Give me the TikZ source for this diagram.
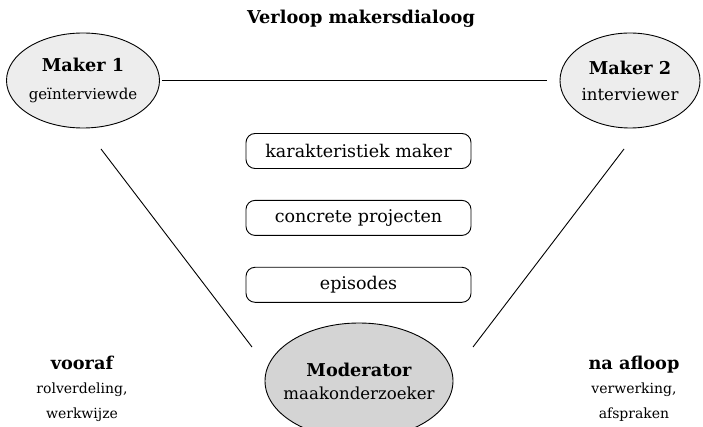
\documentclass[tikz,border=0pt]{standalone}
\usepackage{fontspec}
\setmainfont{DejaVu Serif}
\usetikzlibrary{positioning, shapes.geometric}
\definecolor{makergray}{gray}{0.93}
\definecolor{modgray}{gray}{0.83}
\newcommand{\rolehead}{\fontsize{17.7}{20}\selectfont\bfseries}

\begin{document}
\begin{tikzpicture}[
    x=1pt, y=-1pt,
    node distance=31pt,
    line width=0.9pt,
    every node/.style={align=center, font=\fontsize{16}{24.5}\selectfont},
    head/.style={font=\fontsize{17.7}{24.5}\selectfont\bfseries},
    role/.style={draw, ellipse, inner xsep=-12pt, inner ysep=0pt, fill=makergray},
    topic/.style={draw, rounded corners=9pt, minimum width=225pt, minimum height=35pt,
        font=\fontsize{17.5}{20}\selectfont},
    phase/.style={font=\fontsize{14}{24.5}\selectfont},
    link/.style={line width=0.9pt}
]
\useasboundingbox (0,0) rectangle (703,427);

% Title
\node[head] (title) at (361,18.5) {Verloop makersdialoog};

% Roles
\node[role, minimum width=153pt, minimum height=95pt,
    font=\fontsize{15}{20}\selectfont] (M1) at (83,80.5)
    {{\rolehead Maker 1}\\[8pt] geïnterviewde};
\node[role, minimum width=140pt, minimum height=95pt,
    font=\fontsize{16.6}{20}\selectfont] (M2) at (630,80.5)
    {{\rolehead Maker 2}\\[6pt] interviewer};
\node[role, fill=modgray, minimum width=188pt, minimum height=116pt,
    font=\fontsize{16.6}{20}\selectfont] (Mod) at (359,381)
    {{\rolehead Moderator}\\[3pt] maakonderzoeker};

% Topics
\node[topic] (K) at (358.5,151) {karakteristiek maker};
\node[topic, below=of K] (C) {concrete projecten};
\node[topic, below=of C] (E) {episodes};

% Before and after
\node[phase] (pre) at (82,388.5) {{\rolehead vooraf}\\ rolverdeling,\\ werkwijze};
\node[phase] (post) at (634,388.5) {{\rolehead na afloop}\\ verwerking,\\ afspraken};

% Lines
\coordinate (l1) at (101,149);
\coordinate (l2) at (252,347);
\coordinate (r1) at (624,149);
\coordinate (r2) at (473,347);
\draw[link, shorten <=2pt, shorten >=13pt] (M1.east) -- (M2.west);
\draw[link] (l1) -- (l2);
\draw[link] (r1) -- (r2);

\end{tikzpicture}
\end{document}
